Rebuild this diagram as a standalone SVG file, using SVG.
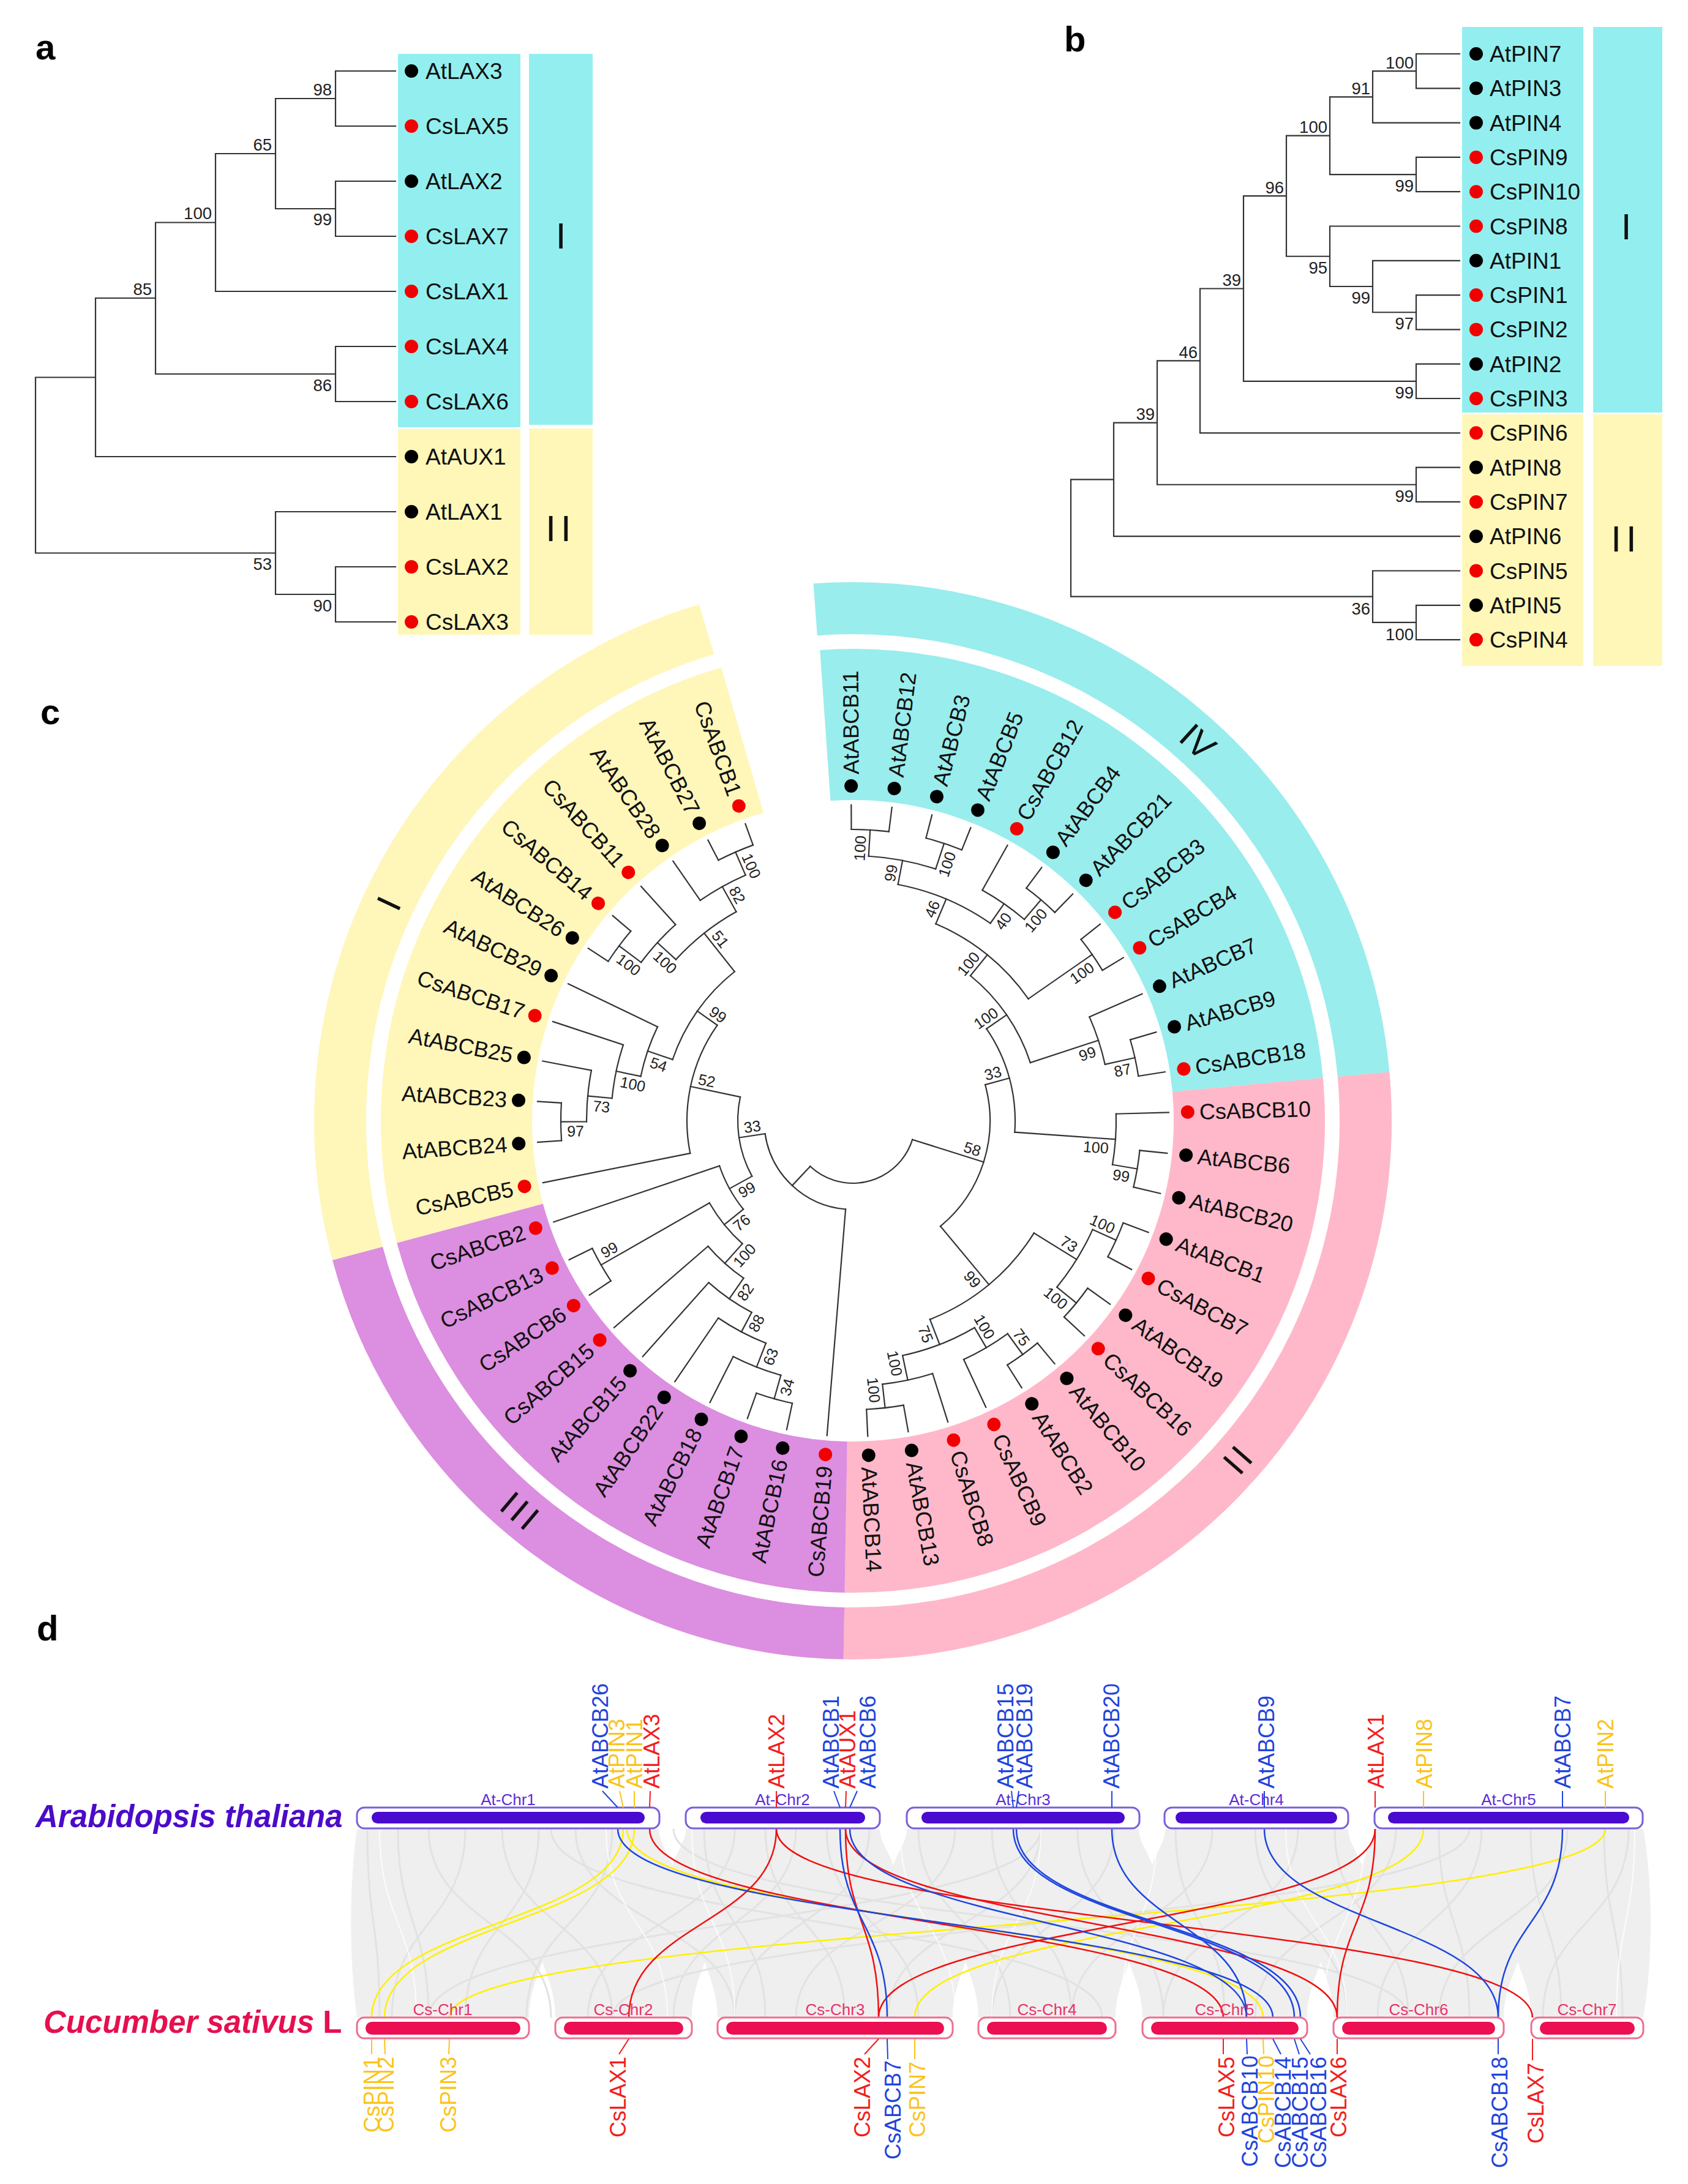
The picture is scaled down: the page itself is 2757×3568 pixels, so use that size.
<svg xmlns="http://www.w3.org/2000/svg" width="2757" height="3568" viewBox="0 0 2757 3568">
<style>
text{font-family:"Liberation Sans",Arial,sans-serif;fill:#111}
.pl{font-size:58px;font-weight:bold;fill:#000}
.lf{font-size:37px}
.bs{font-size:27.5px;text-anchor:end;fill:#222}
.gr{font-size:60px;text-anchor:middle;fill:#111}
.cl{font-size:36px}
.cb{font-size:25px;text-anchor:middle;fill:#222}
.rg{font-size:58px;text-anchor:middle;dominant-baseline:central;fill:#111}
.tr{stroke:#333;stroke-width:2.2;fill:none;stroke-linecap:square}
.k{fill:#000}.r{fill:#f20000}
.gl{font-size:36px}
.chA{font-size:26px;text-anchor:middle;fill:#5a2fd6}
.chC{font-size:26px;text-anchor:middle;fill:#e8336a}
.bA{fill:#fff;stroke:#7b5fd8;stroke-width:3}
.iA{fill:#4a0acf}
.bC{fill:#fff;stroke:#ee6f8e;stroke-width:3}
.iC{fill:#ec0f52}
.cy{stroke:#fff000;stroke-width:2.5;fill:none}
.cr{stroke:#f01010;stroke-width:2.5;fill:none}
.cbl{stroke:#1d45e0;stroke-width:2.5;fill:none}
.ty{fill:#fbc31b}.tyl{stroke:#fbc31b;stroke-width:2}
.trd{fill:#f21d1d}.trl{stroke:#f21d1d;stroke-width:2}
.tb{fill:#1f44dd}.tbl{stroke:#1f44dd;stroke-width:2}
</style>
<rect width="2757" height="3568" fill="#fff"/>

<!-- ================= PANEL A ================= -->
<text class="pl" x="58" y="97">a</text>
<g id="a-boxes">
<rect x="650" y="88" width="200" height="610" fill="#93efef"/>
<rect x="650" y="701" width="200" height="336" fill="#fff7b8"/>
<rect x="864" y="88" width="104" height="606" fill="#93efef"/>
<rect x="864" y="700" width="104" height="337" fill="#fff7b8"/>
<text class="gr" x="916" y="406">I</text>
<text class="gr" x="916" y="884" letter-spacing="8">II</text>
</g>
<g id="a-tree" class="tr">
<path d="M548,116H646M548,206H646M548,116V206M548,296H646M548,386H646M548,296V386M450,161H548M450,341H548M450,161V341M352,251H450M352,476H646M352,251V476M548,566H646M548,656H646M548,566V656M254,363.5H352M254,611H548M254,363.5V611M156,487H254M156,746H646M156,487V746M548,926H646M548,1016H646M548,926V1016M450,836H646M450,971H548M450,836V971M58,616.5H156M58,903.5H450M58,616.5V903.5"/>
</g>
<g id="a-bootstrap">
<text class="bs" x="542" y="156">98</text>
<text class="bs" x="542" y="368">99</text>
<text class="bs" x="444" y="246">65</text>
<text class="bs" x="346" y="358">100</text>
<text class="bs" x="542" y="639">86</text>
<text class="bs" x="248" y="482">85</text>
<text class="bs" x="542" y="999">90</text>
<text class="bs" x="444" y="931">53</text>
</g>
<g id="a-AtLAX3"><circle cx="672" cy="116" r="11" class="k"/><text class="lf" x="695" y="129">AtLAX3</text></g>
<g id="a-CsLAX5"><circle cx="672" cy="206" r="11" class="r"/><text class="lf" x="695" y="219">CsLAX5</text></g>
<g id="a-AtLAX2"><circle cx="672" cy="296" r="11" class="k"/><text class="lf" x="695" y="309">AtLAX2</text></g>
<g id="a-CsLAX7"><circle cx="672" cy="386" r="11" class="r"/><text class="lf" x="695" y="399">CsLAX7</text></g>
<g id="a-CsLAX1"><circle cx="672" cy="476" r="11" class="r"/><text class="lf" x="695" y="489">CsLAX1</text></g>
<g id="a-CsLAX4"><circle cx="672" cy="566" r="11" class="r"/><text class="lf" x="695" y="579">CsLAX4</text></g>
<g id="a-CsLAX6"><circle cx="672" cy="656" r="11" class="r"/><text class="lf" x="695" y="669">CsLAX6</text></g>
<g id="a-AtAUX1"><circle cx="672" cy="746" r="11" class="k"/><text class="lf" x="695" y="759">AtAUX1</text></g>
<g id="a-AtLAX1"><circle cx="672" cy="836" r="11" class="k"/><text class="lf" x="695" y="849">AtLAX1</text></g>
<g id="a-CsLAX2"><circle cx="672" cy="926" r="11" class="r"/><text class="lf" x="695" y="939">CsLAX2</text></g>
<g id="a-CsLAX3"><circle cx="672" cy="1016" r="11" class="r"/><text class="lf" x="695" y="1029">CsLAX3</text></g>

<!-- ================= PANEL B ================= -->
<text class="pl" x="1738" y="84">b</text>
<g id="b-boxes">
<rect x="2388" y="44" width="198" height="630" fill="#93efef"/>
<rect x="2388" y="677" width="198" height="411" fill="#fff7b8"/>
<rect x="2602" y="44" width="113" height="630" fill="#93efef"/>
<rect x="2602" y="677" width="113" height="411" fill="#fff7b8"/>
<text class="gr" x="2656" y="391">I</text>
<text class="gr" x="2656" y="901" letter-spacing="8">II</text>
</g>
<g id="b-tree" class="tr">
<path d="M2313,88H2384M2313,144.3H2384M2313,88V144.3M2242,200.6H2384M2242,116.15H2313M2242,116.15V200.6M2313,256.9H2384M2313,313.2H2384M2313,256.9V313.2M2172,158.4H2242M2172,285.05H2313M2172,158.4V285.05M2313,482.1H2384M2313,538.4H2384M2313,482.1V538.4M2242,425.8H2384M2242,510.25H2313M2242,425.8V510.25M2172,369.5H2384M2172,468H2242M2172,369.5V468M2101,221.7H2172M2101,418.75H2172M2101,221.7V418.75M2313,594.7H2384M2313,651H2384M2313,594.7V651M2031,320.2H2101M2031,622.85H2313M2031,320.2V622.85M1960,471.5H2031M1960,707.3H2384M1960,471.5V707.3M2313,763.6H2384M2313,819.9H2384M2313,763.6V819.9M1890,589.4H1960M1890,791.75H2313M1890,589.4V791.75M1819,690.6H1890M1819,876.2H2384M1819,690.6V876.2M2313,988.8H2384M2313,1045.1H2384M2313,988.8V1045.1M2242,932.5H2384M2242,1016.95H2313M2242,932.5V1016.95M1749,783.4H1819M1749,974.7H2242M1749,783.4V974.7"/>
</g>
<g id="b-bootstrap">
<text class="bs" x="2309" y="112">100</text>
<text class="bs" x="2238" y="154">91</text>
<text class="bs" x="2309" y="313">99</text>
<text class="bs" x="2168" y="217">100</text>
<text class="bs" x="2309" y="538">97</text>
<text class="bs" x="2238" y="496">99</text>
<text class="bs" x="2168" y="447">95</text>
<text class="bs" x="2097" y="316">96</text>
<text class="bs" x="2309" y="651">99</text>
<text class="bs" x="2027" y="467">39</text>
<text class="bs" x="1956" y="585">46</text>
<text class="bs" x="2309" y="820">99</text>
<text class="bs" x="1886" y="686">39</text>
<text class="bs" x="2309" y="1046">100</text>
<text class="bs" x="2238" y="1004">36</text>
</g>
<g id="b-AtPIN7"><circle cx="2411" cy="88" r="11" class="k"/><text class="lf" x="2433" y="101">AtPIN7</text></g>
<g id="b-AtPIN3"><circle cx="2411" cy="144.3" r="11" class="k"/><text class="lf" x="2433" y="157.3">AtPIN3</text></g>
<g id="b-AtPIN4"><circle cx="2411" cy="200.6" r="11" class="k"/><text class="lf" x="2433" y="213.6">AtPIN4</text></g>
<g id="b-CsPIN9"><circle cx="2411" cy="256.9" r="11" class="r"/><text class="lf" x="2433" y="269.9">CsPIN9</text></g>
<g id="b-CsPIN10"><circle cx="2411" cy="313.2" r="11" class="r"/><text class="lf" x="2433" y="326.2">CsPIN10</text></g>
<g id="b-CsPIN8"><circle cx="2411" cy="369.5" r="11" class="r"/><text class="lf" x="2433" y="382.5">CsPIN8</text></g>
<g id="b-AtPIN1"><circle cx="2411" cy="425.8" r="11" class="k"/><text class="lf" x="2433" y="438.8">AtPIN1</text></g>
<g id="b-CsPIN1"><circle cx="2411" cy="482.1" r="11" class="r"/><text class="lf" x="2433" y="495.1">CsPIN1</text></g>
<g id="b-CsPIN2"><circle cx="2411" cy="538.4" r="11" class="r"/><text class="lf" x="2433" y="551.4">CsPIN2</text></g>
<g id="b-AtPIN2"><circle cx="2411" cy="594.7" r="11" class="k"/><text class="lf" x="2433" y="607.7">AtPIN2</text></g>
<g id="b-CsPIN3"><circle cx="2411" cy="651" r="11" class="r"/><text class="lf" x="2433" y="664">CsPIN3</text></g>
<g id="b-CsPIN6"><circle cx="2411" cy="707.3" r="11" class="r"/><text class="lf" x="2433" y="720.3">CsPIN6</text></g>
<g id="b-AtPIN8"><circle cx="2411" cy="763.6" r="11" class="k"/><text class="lf" x="2433" y="776.6">AtPIN8</text></g>
<g id="b-CsPIN7"><circle cx="2411" cy="819.9" r="11" class="r"/><text class="lf" x="2433" y="832.9">CsPIN7</text></g>
<g id="b-AtPIN6"><circle cx="2411" cy="876.2" r="11" class="k"/><text class="lf" x="2433" y="889.2">AtPIN6</text></g>
<g id="b-CsPIN5"><circle cx="2411" cy="932.5" r="11" class="r"/><text class="lf" x="2433" y="945.5">CsPIN5</text></g>
<g id="b-AtPIN5"><circle cx="2411" cy="988.8" r="11" class="k"/><text class="lf" x="2433" y="1001.8">AtPIN5</text></g>
<g id="b-CsPIN4"><circle cx="2411" cy="1045.1" r="11" class="r"/><text class="lf" x="2433" y="1058.1">CsPIN4</text></g>

<!-- ================= PANEL C ================= -->
<text class="pl" x="66" y="1183">c</text>
<g transform="translate(1393,1831)">
<g id="c-sectors" fill="none">
<circle r="647.5" stroke="#99eded" stroke-width="247" stroke-dasharray="1003.5 9000" transform="rotate(-94)"/>
<circle r="647.5" stroke="#ffb8ca" stroke-width="247" stroke-dasharray="1087.2 9000" transform="rotate(-5.2)"/>
<circle r="647.5" stroke="#dc8ee0" stroke-width="247" stroke-dasharray="836.3 9000" transform="rotate(91)"/>
<circle r="647.5" stroke="#fff6ba" stroke-width="247" stroke-dasharray="1003.5 9000" transform="rotate(165)"/>
<circle r="837.5" stroke="#99eded" stroke-width="85" stroke-dasharray="1300.9 9000" transform="rotate(-94.2)"/>
<circle r="837.5" stroke="#ffb8ca" stroke-width="85" stroke-dasharray="1406.2 9000" transform="rotate(-5.2)"/>
<circle r="837.5" stroke="#dc8ee0" stroke-width="85" stroke-dasharray="1081.7 9000" transform="rotate(91)"/>
<circle r="837.5" stroke="#fff6ba" stroke-width="85" stroke-dasharray="1292.2 9000" transform="rotate(165)"/>
</g>
<g id="c-groups">
<text class="rg" transform="rotate(-47.7) translate(837.5,0) rotate(90)">IV</text>
<text class="rg" transform="rotate(41.2) translate(837.5,0) rotate(-90)" letter-spacing="6">II</text>
<text class="rg" transform="rotate(130.3) translate(837.5,0) rotate(-90)" letter-spacing="6">III</text>
<text class="rg" transform="rotate(205.1) translate(837.5,0) rotate(90)">I</text>
</g>
<g id="c-tree" class="tr">
<circle r="476" stroke-dasharray="61.48 9999" transform="rotate(-90.3)"/>
<circle r="477" stroke-dasharray="61.61 9999" transform="rotate(-75.5)"/>
<circle r="433" stroke-dasharray="111.85 9999" transform="rotate(-86.6)"/>
<circle r="474" stroke-dasharray="61.22 9999" transform="rotate(-53.3)"/>
<circle r="432" stroke-dasharray="83.69 9999" transform="rotate(-60.7)"/>
<circle r="393" stroke-dasharray="164.96 9999" transform="rotate(-79.2)"/>
<circle r="476" stroke-dasharray="61.48 9999" transform="rotate(-38.5)"/>
<circle r="349" stroke-dasharray="197.23 9999" transform="rotate(-67.18)"/>
<circle r="472" stroke-dasharray="60.96 9999" transform="rotate(-16.3)"/>
<circle r="422" stroke-dasharray="81.75 9999" transform="rotate(-23.7)"/>
<circle r="305" stroke-dasharray="174.82 9999" transform="rotate(-50.99)"/>
<circle r="471" stroke-dasharray="60.83 9999" transform="rotate(5.9)"/>
<circle r="430" stroke-dasharray="83.30 9999" transform="rotate(-1.5)"/>
<circle r="265" stroke-dasharray="178.62 9999" transform="rotate(-34.57)"/>
<circle r="472" stroke-dasharray="60.96 9999" transform="rotate(20.7)"/>
<circle r="471" stroke-dasharray="60.83 9999" transform="rotate(35.5)"/>
<circle r="430" stroke-dasharray="111.07 9999" transform="rotate(24.4)"/>
<circle r="472" stroke-dasharray="60.96 9999" transform="rotate(50.3)"/>
<circle r="430" stroke-dasharray="83.30 9999" transform="rotate(54)"/>
<circle r="472" stroke-dasharray="60.96 9999" transform="rotate(79.9)"/>
<circle r="433" stroke-dasharray="83.89 9999" transform="rotate(72.5)"/>
<circle r="392" stroke-dasharray="126.57 9999" transform="rotate(59.55)"/>
<circle r="348" stroke-dasharray="224.73 9999" transform="rotate(31.8)"/>
<circle r="224" stroke-dasharray="256.31 9999" transform="rotate(-15.26)"/>
<circle r="102" stroke-dasharray="205.81 9999" transform="rotate(17.52)"/>
<circle r="145" stroke-dasharray="194.51 9999" transform="rotate(94.7)"/>
<circle r="188" stroke-dasharray="133.74 9999" transform="rotate(151.18)"/>
<circle r="230" stroke-dasharray="81.21 9999" transform="rotate(141.07)"/>
<circle r="270" stroke-dasharray="86.10 9999" transform="rotate(131.93)"/>
<circle r="474" stroke-dasharray="61.22 9999" transform="rotate(146.5)"/>
<circle r="313" stroke-dasharray="78.34 9999" transform="rotate(124.76)"/>
<circle r="354" stroke-dasharray="85.70 9999" transform="rotate(117.83)"/>
<circle r="390" stroke-dasharray="88.15 9999" transform="rotate(111.35)"/>
<circle r="432" stroke-dasharray="83.69 9999" transform="rotate(105.8)"/>
<circle r="472" stroke-dasharray="60.96 9999" transform="rotate(102.1)"/>
<circle r="271" stroke-dasharray="219.84 9999" transform="rotate(168.7)"/>
<circle r="311" stroke-dasharray="178.25 9999" transform="rotate(198.76)"/>
<circle r="354" stroke-dasharray="85.70 9999" transform="rotate(191.83)"/>
<circle r="395" stroke-dasharray="89.28 9999" transform="rotate(185.35)"/>
<circle r="435" stroke-dasharray="84.27 9999" transform="rotate(179.8)"/>
<circle r="477" stroke-dasharray="61.61 9999" transform="rotate(176.1)"/>
<circle r="391" stroke-dasharray="126.25 9999" transform="rotate(222.35)"/>
<circle r="432" stroke-dasharray="83.69 9999" transform="rotate(216.8)"/>
<circle r="477" stroke-dasharray="61.61 9999" transform="rotate(213.1)"/>
<circle r="438" stroke-dasharray="84.85 9999" transform="rotate(235.3)"/>
<circle r="479" stroke-dasharray="61.87 9999" transform="rotate(242.7)"/>
<line x1="476" x2="516" transform="rotate(-90.3)"/>
<line x1="476" x2="516" transform="rotate(-82.9)"/>
<line x1="477" x2="516" transform="rotate(-75.5)"/>
<line x1="477" x2="516" transform="rotate(-68.1)"/>
<line x1="432" x2="516" transform="rotate(-60.7)"/>
<line x1="474" x2="516" transform="rotate(-53.3)"/>
<line x1="474" x2="516" transform="rotate(-45.9)"/>
<line x1="476" x2="516" transform="rotate(-38.5)"/>
<line x1="476" x2="516" transform="rotate(-31.1)"/>
<line x1="422" x2="516" transform="rotate(-23.7)"/>
<line x1="472" x2="516" transform="rotate(-16.3)"/>
<line x1="472" x2="516" transform="rotate(-8.9)"/>
<line x1="430" x2="516" transform="rotate(-1.5)"/>
<line x1="471" x2="516" transform="rotate(5.9)"/>
<line x1="471" x2="516" transform="rotate(13.3)"/>
<line x1="472" x2="516" transform="rotate(20.7)"/>
<line x1="472" x2="516" transform="rotate(28.1)"/>
<line x1="471" x2="516" transform="rotate(35.5)"/>
<line x1="471" x2="516" transform="rotate(42.9)"/>
<line x1="472" x2="516" transform="rotate(50.3)"/>
<line x1="472" x2="516" transform="rotate(57.7)"/>
<line x1="430" x2="516" transform="rotate(65.1)"/>
<line x1="433" x2="516" transform="rotate(72.5)"/>
<line x1="472" x2="516" transform="rotate(79.9)"/>
<line x1="472" x2="516" transform="rotate(87.3)"/>
<line x1="145" x2="516" transform="rotate(94.7)"/>
<line x1="472" x2="516" transform="rotate(102.1)"/>
<line x1="472" x2="516" transform="rotate(109.5)"/>
<line x1="432" x2="516" transform="rotate(116.9)"/>
<line x1="390" x2="516" transform="rotate(124.3)"/>
<line x1="354" x2="516" transform="rotate(131.7)"/>
<line x1="313" x2="516" transform="rotate(139.1)"/>
<line x1="474" x2="516" transform="rotate(146.5)"/>
<line x1="474" x2="516" transform="rotate(153.9)"/>
<line x1="230" x2="516" transform="rotate(161.3)"/>
<line x1="271" x2="516" transform="rotate(168.7)"/>
<line x1="477" x2="516" transform="rotate(176.1)"/>
<line x1="477" x2="516" transform="rotate(183.5)"/>
<line x1="435" x2="516" transform="rotate(190.9)"/>
<line x1="395" x2="516" transform="rotate(198.3)"/>
<line x1="354" x2="516" transform="rotate(205.7)"/>
<line x1="477" x2="516" transform="rotate(213.1)"/>
<line x1="477" x2="516" transform="rotate(220.5)"/>
<line x1="432" x2="516" transform="rotate(227.9)"/>
<line x1="438" x2="516" transform="rotate(235.3)"/>
<line x1="479" x2="516" transform="rotate(242.7)"/>
<line x1="479" x2="516" transform="rotate(250.1)"/>
<line x1="433" x2="476" transform="rotate(-86.6)"/>
<line x1="433" x2="477" transform="rotate(-71.8)"/>
<line x1="393" x2="433" transform="rotate(-79.2)"/>
<line x1="432" x2="474" transform="rotate(-49.6)"/>
<line x1="393" x2="432" transform="rotate(-55.15)"/>
<line x1="349" x2="393" transform="rotate(-67.18)"/>
<line x1="349" x2="476" transform="rotate(-34.8)"/>
<line x1="305" x2="349" transform="rotate(-50.99)"/>
<line x1="422" x2="472" transform="rotate(-12.6)"/>
<line x1="305" x2="422" transform="rotate(-18.15)"/>
<line x1="265" x2="305" transform="rotate(-34.57)"/>
<line x1="430" x2="471" transform="rotate(9.6)"/>
<line x1="265" x2="430" transform="rotate(4.05)"/>
<line x1="224" x2="265" transform="rotate(-15.26)"/>
<line x1="430" x2="472" transform="rotate(24.4)"/>
<line x1="430" x2="471" transform="rotate(39.2)"/>
<line x1="348" x2="430" transform="rotate(31.8)"/>
<line x1="430" x2="472" transform="rotate(54)"/>
<line x1="392" x2="430" transform="rotate(59.55)"/>
<line x1="433" x2="472" transform="rotate(83.6)"/>
<line x1="392" x2="433" transform="rotate(78.05)"/>
<line x1="348" x2="392" transform="rotate(68.8)"/>
<line x1="224" x2="348" transform="rotate(50.3)"/>
<line x1="102" x2="224" transform="rotate(17.52)"/>
<line x1="102" x2="145" transform="rotate(133.13)"/>
<line x1="145" x2="188" transform="rotate(171.56)"/>
<line x1="188" x2="230" transform="rotate(151.18)"/>
<line x1="188" x2="271" transform="rotate(191.94)"/>
<line x1="230" x2="270" transform="rotate(141.07)"/>
<line x1="270" x2="313" transform="rotate(131.93)"/>
<line x1="270" x2="474" transform="rotate(150.2)"/>
<line x1="313" x2="354" transform="rotate(124.76)"/>
<line x1="354" x2="390" transform="rotate(117.83)"/>
<line x1="390" x2="432" transform="rotate(111.35)"/>
<line x1="432" x2="472" transform="rotate(105.8)"/>
<line x1="271" x2="311" transform="rotate(215.18)"/>
<line x1="311" x2="354" transform="rotate(198.76)"/>
<line x1="354" x2="395" transform="rotate(191.83)"/>
<line x1="395" x2="435" transform="rotate(185.35)"/>
<line x1="435" x2="477" transform="rotate(179.8)"/>
<line x1="311" x2="391" transform="rotate(231.6)"/>
<line x1="391" x2="432" transform="rotate(222.35)"/>
<line x1="432" x2="477" transform="rotate(216.8)"/>
<line x1="391" x2="438" transform="rotate(240.85)"/>
<line x1="438" x2="479" transform="rotate(246.4)"/>
</g>
<g id="c-bootstrap">
<text class="cb" transform="rotate(-86.6)" x="445" y="-6">100</text>
<text class="cb" transform="rotate(-71.8)" x="446" y="24">100</text>
<text class="cb" transform="rotate(-79.2)" x="409" y="-6">99</text>
<text class="cb" transform="rotate(-49.6)" x="443" y="24">100</text>
<text class="cb" transform="rotate(-55.15)" x="408" y="24">40</text>
<text class="cb" transform="rotate(-67.18)" x="369" y="-6">46</text>
<text class="cb" transform="rotate(-34.8)" x="445" y="24">100</text>
<text class="cb" transform="rotate(-50.99)" x="318" y="-6">100</text>
<text class="cb" transform="rotate(-12.6)" x="448" y="24">87</text>
<text class="cb" transform="rotate(-18.15)" x="398" y="24">99</text>
<text class="cb" transform="rotate(-34.57)" x="274" y="-6">100</text>
<text class="cb" transform="rotate(9.6)" x="447" y="24">99</text>
<text class="cb" transform="rotate(4.05)" x="399" y="24">100</text>
<text class="cb" transform="rotate(-15.26)" x="241" y="-6">33</text>
<text class="cb" transform="rotate(24.4)" x="441" y="-6">100</text>
<text class="cb" transform="rotate(39.2)" x="440" y="24">100</text>
<text class="cb" transform="rotate(31.8)" x="406" y="-6">73</text>
<text class="cb" transform="rotate(54)" x="448" y="-6">75</text>
<text class="cb" transform="rotate(59.55)" x="399" y="-6">100</text>
<text class="cb" transform="rotate(83.6)" x="441" y="24">100</text>
<text class="cb" transform="rotate(78.05)" x="402" y="24">100</text>
<text class="cb" transform="rotate(68.8)" x="368" y="24">75</text>
<text class="cb" transform="rotate(50.3)" x="324" y="24">99</text>
<text class="cb" transform="rotate(17.52)" x="200" y="-6">58</text>
<text class="cb" transform="rotate(285.8)" x="-448" y="24">34</text>
<text class="cb" transform="rotate(291.35)" x="-408" y="24">63</text>
<text class="cb" transform="rotate(297.83)" x="-366" y="24">88</text>
<text class="cb" transform="rotate(304.76)" x="-330" y="24">82</text>
<text class="cb" transform="rotate(311.93)" x="-282" y="24">100</text>
<text class="cb" transform="rotate(330.2)" x="-450" y="-6">99</text>
<text class="cb" transform="rotate(321.07)" x="-246" y="24">76</text>
<text class="cb" transform="rotate(331.18)" x="-206" y="24">99</text>
<text class="cb" transform="rotate(351.56)" x="-164" y="-6">33</text>
<text class="cb" transform="rotate(359.8)" x="-453" y="24">97</text>
<text class="cb" transform="rotate(5.35)" x="-411" y="24">73</text>
<text class="cb" transform="rotate(11.83)" x="-364" y="24">100</text>
<text class="cb" transform="rotate(18.76)" x="-330" y="24">54</text>
<text class="cb" transform="rotate(36.8)" x="-446" y="24">100</text>
<text class="cb" transform="rotate(42.35)" x="-401" y="24">100</text>
<text class="cb" transform="rotate(66.4)" x="-448" y="-6">100</text>
<text class="cb" transform="rotate(60.85)" x="-414" y="-6">82</text>
<text class="cb" transform="rotate(51.6)" x="-367" y="-6">51</text>
<text class="cb" transform="rotate(35.18)" x="-280" y="-6">99</text>
<text class="cb" transform="rotate(11.94)" x="-247" y="-6">52</text>
</g>
<g id="c-AtABCB11" transform="rotate(-90.3)"><circle cx="547" r="11" class="k"/><text class="cl" x="566" dy="12.6">AtABCB11</text></g>
<g id="c-AtABCB12" transform="rotate(-82.9)"><circle cx="547" r="11" class="k"/><text class="cl" x="566" dy="12.6">AtABCB12</text></g>
<g id="c-AtABCB3" transform="rotate(-75.5)"><circle cx="547" r="11" class="k"/><text class="cl" x="566" dy="12.6">AtABCB3</text></g>
<g id="c-AtABCB5" transform="rotate(-68.1)"><circle cx="547" r="11" class="k"/><text class="cl" x="566" dy="12.6">AtABCB5</text></g>
<g id="c-CsABCB12" transform="rotate(-60.7)"><circle cx="547" r="11" class="r"/><text class="cl" x="566" dy="12.6">CsABCB12</text></g>
<g id="c-AtABCB4" transform="rotate(-53.3)"><circle cx="547" r="11" class="k"/><text class="cl" x="566" dy="12.6">AtABCB4</text></g>
<g id="c-AtABCB21" transform="rotate(-45.9)"><circle cx="547" r="11" class="k"/><text class="cl" x="566" dy="12.6">AtABCB21</text></g>
<g id="c-CsABCB3" transform="rotate(-38.5)"><circle cx="547" r="11" class="r"/><text class="cl" x="566" dy="12.6">CsABCB3</text></g>
<g id="c-CsABCB4" transform="rotate(-31.1)"><circle cx="547" r="11" class="r"/><text class="cl" x="566" dy="12.6">CsABCB4</text></g>
<g id="c-AtABCB7" transform="rotate(-23.7)"><circle cx="547" r="11" class="k"/><text class="cl" x="566" dy="12.6">AtABCB7</text></g>
<g id="c-AtABCB9" transform="rotate(-16.3)"><circle cx="547" r="11" class="k"/><text class="cl" x="566" dy="12.6">AtABCB9</text></g>
<g id="c-CsABCB18" transform="rotate(-8.9)"><circle cx="547" r="11" class="r"/><text class="cl" x="566" dy="12.6">CsABCB18</text></g>
<g id="c-CsABCB10" transform="rotate(-1.5)"><circle cx="547" r="11" class="r"/><text class="cl" x="566" dy="12.6">CsABCB10</text></g>
<g id="c-AtABCB6" transform="rotate(5.9)"><circle cx="547" r="11" class="k"/><text class="cl" x="566" dy="12.6">AtABCB6</text></g>
<g id="c-AtABCB20" transform="rotate(13.3)"><circle cx="547" r="11" class="k"/><text class="cl" x="566" dy="12.6">AtABCB20</text></g>
<g id="c-AtABCB1" transform="rotate(20.7)"><circle cx="547" r="11" class="k"/><text class="cl" x="566" dy="12.6">AtABCB1</text></g>
<g id="c-CsABCB7" transform="rotate(28.1)"><circle cx="547" r="11" class="r"/><text class="cl" x="566" dy="12.6">CsABCB7</text></g>
<g id="c-AtABCB19" transform="rotate(35.5)"><circle cx="547" r="11" class="k"/><text class="cl" x="566" dy="12.6">AtABCB19</text></g>
<g id="c-CsABCB16" transform="rotate(42.9)"><circle cx="547" r="11" class="r"/><text class="cl" x="566" dy="12.6">CsABCB16</text></g>
<g id="c-AtABCB10" transform="rotate(50.3)"><circle cx="547" r="11" class="k"/><text class="cl" x="566" dy="12.6">AtABCB10</text></g>
<g id="c-AtABCB2" transform="rotate(57.7)"><circle cx="547" r="11" class="k"/><text class="cl" x="566" dy="12.6">AtABCB2</text></g>
<g id="c-CsABCB9" transform="rotate(65.1)"><circle cx="547" r="11" class="r"/><text class="cl" x="566" dy="12.6">CsABCB9</text></g>
<g id="c-CsABCB8" transform="rotate(72.5)"><circle cx="547" r="11" class="r"/><text class="cl" x="566" dy="12.6">CsABCB8</text></g>
<g id="c-AtABCB13" transform="rotate(79.9)"><circle cx="547" r="11" class="k"/><text class="cl" x="566" dy="12.6">AtABCB13</text></g>
<g id="c-AtABCB14" transform="rotate(87.3)"><circle cx="547" r="11" class="k"/><text class="cl" x="566" dy="12.6">AtABCB14</text></g>
<g id="c-CsABCB19" transform="rotate(274.7)"><circle cx="-547" r="11" class="r"/><text class="cl" x="-566" dy="12.6" text-anchor="end">CsABCB19</text></g>
<g id="c-AtABCB16" transform="rotate(282.1)"><circle cx="-547" r="11" class="k"/><text class="cl" x="-566" dy="12.6" text-anchor="end">AtABCB16</text></g>
<g id="c-AtABCB17" transform="rotate(289.5)"><circle cx="-547" r="11" class="k"/><text class="cl" x="-566" dy="12.6" text-anchor="end">AtABCB17</text></g>
<g id="c-AtABCB18" transform="rotate(296.9)"><circle cx="-547" r="11" class="k"/><text class="cl" x="-566" dy="12.6" text-anchor="end">AtABCB18</text></g>
<g id="c-AtABCB22" transform="rotate(304.3)"><circle cx="-547" r="11" class="k"/><text class="cl" x="-566" dy="12.6" text-anchor="end">AtABCB22</text></g>
<g id="c-AtABCB15" transform="rotate(311.7)"><circle cx="-547" r="11" class="k"/><text class="cl" x="-566" dy="12.6" text-anchor="end">AtABCB15</text></g>
<g id="c-CsABCB15" transform="rotate(319.1)"><circle cx="-547" r="11" class="r"/><text class="cl" x="-566" dy="12.6" text-anchor="end">CsABCB15</text></g>
<g id="c-CsABCB6" transform="rotate(326.5)"><circle cx="-547" r="11" class="r"/><text class="cl" x="-566" dy="12.6" text-anchor="end">CsABCB6</text></g>
<g id="c-CsABCB13" transform="rotate(333.9)"><circle cx="-547" r="11" class="r"/><text class="cl" x="-566" dy="12.6" text-anchor="end">CsABCB13</text></g>
<g id="c-CsABCB2" transform="rotate(341.3)"><circle cx="-547" r="11" class="r"/><text class="cl" x="-566" dy="12.6" text-anchor="end">CsABCB2</text></g>
<g id="c-CsABCB5" transform="rotate(348.7)"><circle cx="-547" r="11" class="r"/><text class="cl" x="-566" dy="12.6" text-anchor="end">CsABCB5</text></g>
<g id="c-AtABCB24" transform="rotate(356.1)"><circle cx="-547" r="11" class="k"/><text class="cl" x="-566" dy="12.6" text-anchor="end">AtABCB24</text></g>
<g id="c-AtABCB23" transform="rotate(3.5)"><circle cx="-547" r="11" class="k"/><text class="cl" x="-566" dy="12.6" text-anchor="end">AtABCB23</text></g>
<g id="c-AtABCB25" transform="rotate(10.9)"><circle cx="-547" r="11" class="k"/><text class="cl" x="-566" dy="12.6" text-anchor="end">AtABCB25</text></g>
<g id="c-CsABCB17" transform="rotate(18.3)"><circle cx="-547" r="11" class="r"/><text class="cl" x="-566" dy="12.6" text-anchor="end">CsABCB17</text></g>
<g id="c-AtABCB29" transform="rotate(25.7)"><circle cx="-547" r="11" class="k"/><text class="cl" x="-566" dy="12.6" text-anchor="end">AtABCB29</text></g>
<g id="c-AtABCB26" transform="rotate(33.1)"><circle cx="-547" r="11" class="k"/><text class="cl" x="-566" dy="12.6" text-anchor="end">AtABCB26</text></g>
<g id="c-CsABCB14" transform="rotate(40.5)"><circle cx="-547" r="11" class="r"/><text class="cl" x="-566" dy="12.6" text-anchor="end">CsABCB14</text></g>
<g id="c-CsABCB11" transform="rotate(47.9)"><circle cx="-547" r="11" class="r"/><text class="cl" x="-566" dy="12.6" text-anchor="end">CsABCB11</text></g>
<g id="c-AtABCB28" transform="rotate(55.3)"><circle cx="-547" r="11" class="k"/><text class="cl" x="-566" dy="12.6" text-anchor="end">AtABCB28</text></g>
<g id="c-AtABCB27" transform="rotate(62.7)"><circle cx="-547" r="11" class="k"/><text class="cl" x="-566" dy="12.6" text-anchor="end">AtABCB27</text></g>
<g id="c-CsABCB1" transform="rotate(70.1)"><circle cx="-547" r="11" class="r"/><text class="cl" x="-566" dy="12.6" text-anchor="end">CsABCB1</text></g>
</g>

<!-- ================= PANEL D ================= -->
<text class="pl" x="60" y="2680">d</text>
<g id="d-background">
<path d="M583,2988H2684C2700,3080 2700,3200 2684,3296H583C570,3200 570,3080 583,2988Z" fill="#efefef"/>
<g fill="#fff">
<path d="M1076,2988C1076,3010 1094,3030 1098,3048C1102,3030 1120,3010 1120,2988Z"/>
<path d="M1437,2988C1437,3010 1455,3030 1459,3048C1463,3030 1481,3010 1481,2988Z"/>
<path d="M1860,2988C1860,3010 1878,3030 1882,3048C1886,3030 1903,3010 1903,2988Z"/>
<path d="M2202,2988C2202,3010 2220,3030 2224,3048C2228,3030 2245,3010 2245,2988Z"/>
<path d="M864,3296C864,3255 880,3225 886,3205C892,3225 907,3255 907,3296Z"/>
<path d="M1130,3296C1130,3255 1145,3225 1151,3205C1157,3225 1172,3255 1172,3296Z"/>
<path d="M1556,3296C1556,3255 1571,3225 1577,3205C1583,3225 1598,3255 1598,3296Z"/>
<path d="M1822,3296C1822,3255 1838,3225 1844,3205C1850,3225 1866,3255 1866,3296Z"/>
<path d="M2135,3296C2135,3255 2151,3225 2157,3205C2163,3225 2178,3255 2178,3296Z"/>
<path d="M2456,3296C2456,3255 2473,3225 2479,3205C2485,3225 2501,3255 2501,3296Z"/>
</g>
<g fill="none" stroke="#e2e2e2" stroke-width="3">
<path d="M600,2988C600,3142 620,3142 620,3296"/><path d="M650,2988C650,3142 700,3142 700,3296"/>
<path d="M700,2988C700,3142 900,3142 900,3296"/><path d="M760,2988C760,3142 640,3142 640,3296"/>
<path d="M820,2988C820,3142 1000,3142 1000,3296"/><path d="M880,2988C880,3142 760,3142 760,3296"/>
<path d="M940,2988C940,3142 1200,3142 1200,3296"/><path d="M1000,2988C1000,3142 860,3142 860,3296"/>
<path d="M1150,2988C1150,3142 1250,3142 1250,3296"/><path d="M1200,2988C1200,3142 960,3142 960,3296"/>
<path d="M1250,2988C1250,3142 1380,3142 1380,3296"/><path d="M1300,2988C1300,3142 1100,3142 1100,3296"/>
<path d="M1350,2988C1350,3142 1500,3142 1500,3296"/><path d="M1420,2988C1420,3142 1200,3142 1200,3296"/>
<path d="M1500,2988C1500,3142 1650,3142 1650,3296"/><path d="M1560,2988C1560,3142 1300,3142 1300,3296"/>
<path d="M1620,2988C1620,3142 1750,3142 1750,3296"/><path d="M1700,2988C1700,3142 1450,3142 1450,3296"/>
<path d="M1760,2988C1760,3142 1900,3142 1900,3296"/><path d="M1820,2988C1820,3142 1620,3142 1620,3296"/>
<path d="M1920,2988C1920,3142 2000,3142 2000,3296"/><path d="M1980,2988C1980,3142 1750,3142 1750,3296"/>
<path d="M2050,2988C2050,3142 2200,3142 2200,3296"/><path d="M2120,2988C2120,3142 1900,3142 1900,3296"/>
<path d="M2180,2988C2180,3142 2300,3142 2300,3296"/><path d="M2280,2988C2280,3142 2050,3142 2050,3296"/>
<path d="M2350,2988C2350,3142 2400,3142 2400,3296"/><path d="M2420,2988C2420,3142 2250,3142 2250,3296"/>
<path d="M2500,2988C2500,3142 2550,3142 2550,3296"/><path d="M2560,2988C2560,3142 2350,3142 2350,3296"/>
<path d="M2620,2988C2620,3142 2650,3142 2650,3296"/><path d="M2660,2988C2660,3142 2520,3142 2520,3296"/>
<path d="M1100,2988C1100,3142 2300,3142 2300,3296"/><path d="M2400,2988C2400,3142 1000,3142 1000,3296"/>
<path d="M1700,2988C1700,3142 700,3142 700,3296"/><path d="M900,2988C900,3142 1800,3142 1800,3296"/>
</g>
<g fill="none" stroke="#fff" stroke-width="2" opacity="0.8">
<path d="M620,2988C620,3142 680,3142 680,3296"/><path d="M1130,2988C1130,3142 1200,3142 1200,3296"/>
<path d="M1470,2988C1470,3142 1560,3142 1560,3296"/><path d="M1890,2988C1890,3142 1830,3142 1830,3296"/>
<path d="M2230,2988C2230,3142 2160,3142 2160,3296"/><path d="M2670,2988C2670,3142 2640,3142 2640,3296"/>
<path d="M990,2988C990,3142 1090,3142 1090,3296"/><path d="M1700,2988C1700,3142 1620,3142 1620,3296"/>
<path d="M2100,2988C2100,3142 2200,3142 2200,3296"/>
</g>
</g>
<g id="d-connectors">
<path class="cy" d="M1018,2988C1018,3142 607,3142 607,3296"/>
<path class="cy" d="M1036,2988C1036,3142 628,3142 628,3296"/>
<path class="cy" d="M2622,2988C2622,3142 734,3142 734,3296"/>
<path class="cy" d="M2325,2988C2325,3142 1494,3142 1494,3296"/>
<path class="cy" d="M1024,2988C1024,3142 2063,3142 2063,3296"/>
<path class="cr" d="M1061,2988C1061,3142 1998,3142 1998,3296"/>
<path class="cr" d="M1268,2988C1268,3142 1027,3142 1027,3296"/>
<path class="cr" d="M1268,2988C1268,3142 2503,3142 2503,3296"/>
<path class="cr" d="M1381,2988C1381,3142 1435,3142 1435,3296"/>
<path class="cr" d="M1381,2988C1381,3142 2184,3142 2184,3296"/>
<path class="cr" d="M2246,2988C2246,3142 2184,3142 2184,3296"/>
<path class="cr" d="M2246,2988C2246,3142 1435,3142 1435,3296"/>
<path class="cbl" d="M1009,2988C1009,3142 2079,3142 2079,3296"/>
<path class="cbl" d="M1372,2988C1372,3142 1449,3142 1449,3296"/>
<path class="cbl" d="M1388,2988C1388,3142 2036,3142 2036,3296"/>
<path class="cbl" d="M1655,2988C1655,3142 2114,3142 2114,3296"/>
<path class="cbl" d="M1660,2988C1660,3142 2124,3142 2124,3296"/>
<path class="cbl" d="M1816,2988C1816,3142 2036,3142 2036,3296"/>
<path class="cbl" d="M2065,2988C2065,3142 2447,3142 2447,3296"/>
<path class="cbl" d="M2552,2988C2552,3142 2447,3142 2447,3296"/>
</g>
<text x="58" y="2985" font-size="51" font-weight="bold" font-style="italic" style="fill:#4b0bc9">Arabidopsis thaliana</text>
<text x="71" y="3321" font-size="51" font-weight="bold" style="fill:#e5104f"><tspan font-style="italic">Cucumber sativus</tspan> L</text>
<g id="d-At-Chr1"><rect class="bA" x="583" y="2953" width="494" height="34" rx="12"/><rect class="iA" x="607" y="2960" width="446" height="19" rx="9.5"/><text class="chA" x="830" y="2949">At-Chr1</text></g>
<g id="d-At-Chr2"><rect class="bA" x="1120" y="2953" width="317" height="34" rx="12"/><rect class="iA" x="1144" y="2960" width="269" height="19" rx="9.5"/><text class="chA" x="1278" y="2949">At-Chr2</text></g>
<g id="d-At-Chr3"><rect class="bA" x="1481" y="2953" width="380" height="34" rx="12"/><rect class="iA" x="1505" y="2960" width="332" height="19" rx="9.5"/><text class="chA" x="1671" y="2949">At-Chr3</text></g>
<g id="d-At-Chr4"><rect class="bA" x="1902" y="2953" width="300" height="34" rx="12"/><rect class="iA" x="1920" y="2960" width="264" height="19" rx="9.5"/><text class="chA" x="2052" y="2949">At-Chr4</text></g>
<g id="d-At-Chr5"><rect class="bA" x="2245" y="2953" width="438" height="34" rx="12"/><rect class="iA" x="2267" y="2960" width="394" height="19" rx="9.5"/><text class="chA" x="2464" y="2949">At-Chr5</text></g>
<g id="d-Cs-Chr1"><rect class="bC" x="583" y="3296" width="281" height="34" rx="12"/><rect class="iC" x="597" y="3303" width="253" height="21" rx="10.5"/><text class="chC" x="723" y="3292">Cs-Chr1</text></g>
<g id="d-Cs-Chr2"><rect class="bC" x="907" y="3296" width="223" height="34" rx="12"/><rect class="iC" x="921" y="3303" width="195" height="21" rx="10.5"/><text class="chC" x="1018" y="3292">Cs-Chr2</text></g>
<g id="d-Cs-Chr3"><rect class="bC" x="1172" y="3296" width="384" height="34" rx="12"/><rect class="iC" x="1186" y="3303" width="356" height="21" rx="10.5"/><text class="chC" x="1364" y="3292">Cs-Chr3</text></g>
<g id="d-Cs-Chr4"><rect class="bC" x="1598" y="3296" width="224" height="34" rx="12"/><rect class="iC" x="1612" y="3303" width="196" height="21" rx="10.5"/><text class="chC" x="1710" y="3292">Cs-Chr4</text></g>
<g id="d-Cs-Chr5"><rect class="bC" x="1866" y="3296" width="269" height="34" rx="12"/><rect class="iC" x="1880" y="3303" width="241" height="21" rx="10.5"/><text class="chC" x="2000" y="3292">Cs-Chr5</text></g>
<g id="d-Cs-Chr6"><rect class="bC" x="2178" y="3296" width="278" height="34" rx="12"/><rect class="iC" x="2192" y="3303" width="250" height="21" rx="10.5"/><text class="chC" x="2317" y="3292">Cs-Chr6</text></g>
<g id="d-Cs-Chr7"><rect class="bC" x="2501" y="3296" width="183" height="34" rx="12"/><rect class="iC" x="2515" y="3303" width="155" height="21" rx="10.5"/><text class="chC" x="2592" y="3292">Cs-Chr7</text></g>
<g id="d-AtABCB26"><line class="tbl" x1="984" y1="2926" x2="1009" y2="2953"/><text class="gl tb" transform="translate(993,2922) rotate(-90)">AtABCB26</text></g>
<g id="d-AtPIN3"><line class="tyl" x1="1012" y1="2926" x2="1018" y2="2953"/><text class="gl ty" transform="translate(1020,2922) rotate(-90)">AtPIN3</text></g>
<g id="d-AtPIN1"><line class="tyl" x1="1036" y1="2926" x2="1036" y2="2953"/><text class="gl ty" transform="translate(1049,2922) rotate(-90)">AtPIN1</text></g>
<g id="d-AtLAX3"><line class="trl" x1="1062" y1="2926" x2="1061" y2="2953"/><text class="gl trd" transform="translate(1077,2922) rotate(-90)">AtLAX3</text></g>
<g id="d-AtLAX2"><line class="trl" x1="1268" y1="2926" x2="1268" y2="2953"/><text class="gl trd" transform="translate(1281,2922) rotate(-90)">AtLAX2</text></g>
<g id="d-AtABCB1"><line class="tbl" x1="1362" y1="2926" x2="1372" y2="2953"/><text class="gl tb" transform="translate(1370,2922) rotate(-90)">AtABCB1</text></g>
<g id="d-AtAUX1"><line class="trl" x1="1382" y1="2926" x2="1381" y2="2953"/><text class="gl trd" transform="translate(1397,2922) rotate(-90)">AtAUX1</text></g>
<g id="d-AtABCB6"><line class="tbl" x1="1400" y1="2926" x2="1388" y2="2953"/><text class="gl tb" transform="translate(1430,2922) rotate(-90)">AtABCB6</text></g>
<g id="d-AtABCB15"><line class="tbl" x1="1652" y1="2926" x2="1655" y2="2953"/><text class="gl tb" transform="translate(1655,2922) rotate(-90)">AtABCB15</text></g>
<g id="d-AtABCB19"><line class="tbl" x1="1664" y1="2926" x2="1660" y2="2953"/><text class="gl tb" transform="translate(1686,2922) rotate(-90)">AtABCB19</text></g>
<g id="d-AtABCB20"><line class="tbl" x1="1816" y1="2926" x2="1816" y2="2953"/><text class="gl tb" transform="translate(1828,2922) rotate(-90)">AtABCB20</text></g>
<g id="d-AtABCB9"><line class="tbl" x1="2065" y1="2926" x2="2065" y2="2953"/><text class="gl tb" transform="translate(2081,2922) rotate(-90)">AtABCB9</text></g>
<g id="d-AtLAX1"><line class="trl" x1="2246" y1="2926" x2="2246" y2="2953"/><text class="gl trd" transform="translate(2260,2922) rotate(-90)">AtLAX1</text></g>
<g id="d-AtPIN8"><line class="tyl" x1="2325" y1="2926" x2="2325" y2="2953"/><text class="gl ty" transform="translate(2339,2922) rotate(-90)">AtPIN8</text></g>
<g id="d-AtABCB7"><line class="tbl" x1="2552" y1="2926" x2="2552" y2="2953"/><text class="gl tb" transform="translate(2565,2922) rotate(-90)">AtABCB7</text></g>
<g id="d-AtPIN2"><line class="tyl" x1="2622" y1="2926" x2="2622" y2="2953"/><text class="gl ty" transform="translate(2635,2922) rotate(-90)">AtPIN2</text></g>
<g id="d-CsPIN1"><line class="tyl" x1="607" y1="3331" x2="607" y2="3356"/><text class="gl ty" text-anchor="end" transform="translate(620,3360) rotate(-90)">CsPIN1</text></g>
<g id="d-CsPIN2"><line class="tyl" x1="628" y1="3331" x2="629" y2="3356"/><text class="gl ty" text-anchor="end" transform="translate(643,3360) rotate(-90)">CsPIN2</text></g>
<g id="d-CsPIN3"><line class="tyl" x1="734" y1="3331" x2="733" y2="3356"/><text class="gl ty" text-anchor="end" transform="translate(745,3360) rotate(-90)">CsPIN3</text></g>
<g id="d-CsLAX1"><line class="trl" x1="1027" y1="3331" x2="1011" y2="3356"/><text class="gl trd" text-anchor="end" transform="translate(1022,3360) rotate(-90)">CsLAX1</text></g>
<g id="d-CsLAX2"><line class="trl" x1="1435" y1="3331" x2="1412" y2="3356"/><text class="gl trd" text-anchor="end" transform="translate(1421,3360) rotate(-90)">CsLAX2</text></g>
<g id="d-CsABCB7"><line class="tbl" x1="1449" y1="3331" x2="1450" y2="3364"/><text class="gl tb" text-anchor="end" transform="translate(1471,3366) rotate(-90)">CsABCB7</text></g>
<g id="d-CsPIN7"><line class="tyl" x1="1494" y1="3331" x2="1494" y2="3364"/><text class="gl ty" text-anchor="end" transform="translate(1511,3368) rotate(-90)">CsPIN7</text></g>
<g id="d-CsLAX5"><line class="trl" x1="1998" y1="3331" x2="1998" y2="3356"/><text class="gl trd" text-anchor="end" transform="translate(2016,3360) rotate(-90)">CsLAX5</text></g>
<g id="d-CsABCB10"><line class="tbl" x1="2036" y1="3331" x2="2037" y2="3356"/><text class="gl tb" text-anchor="end" transform="translate(2054,3358) rotate(-90)">CsABCB10</text></g>
<g id="d-CsPIN10"><line class="tyl" x1="2063" y1="3331" x2="2064" y2="3356"/><text class="gl ty" text-anchor="end" transform="translate(2081,3358) rotate(-90)">CsPIN10</text></g>
<g id="d-CsABCB14"><line class="tbl" x1="2079" y1="3331" x2="2092" y2="3356"/><text class="gl tb" text-anchor="end" transform="translate(2108,3360) rotate(-90)">CsABCB14</text></g>
<g id="d-CsABCB15"><line class="tbl" x1="2114" y1="3331" x2="2122" y2="3356"/><text class="gl tb" text-anchor="end" transform="translate(2136,3360) rotate(-90)">CsABCB15</text></g>
<g id="d-CsABCB16"><line class="tbl" x1="2124" y1="3331" x2="2140" y2="3356"/><text class="gl tb" text-anchor="end" transform="translate(2166,3360) rotate(-90)">CsABCB16</text></g>
<g id="d-CsLAX6"><line class="trl" x1="2184" y1="3331" x2="2184" y2="3356"/><text class="gl trd" text-anchor="end" transform="translate(2199,3360) rotate(-90)">CsLAX6</text></g>
<g id="d-CsABCB18"><line class="tbl" x1="2447" y1="3331" x2="2447" y2="3356"/><text class="gl tb" text-anchor="end" transform="translate(2462,3360) rotate(-90)">CsABCB18</text></g>
<g id="d-CsLAX7"><line class="trl" x1="2503" y1="3331" x2="2503" y2="3366"/><text class="gl trd" text-anchor="end" transform="translate(2521,3370) rotate(-90)">CsLAX7</text></g>
</svg>
